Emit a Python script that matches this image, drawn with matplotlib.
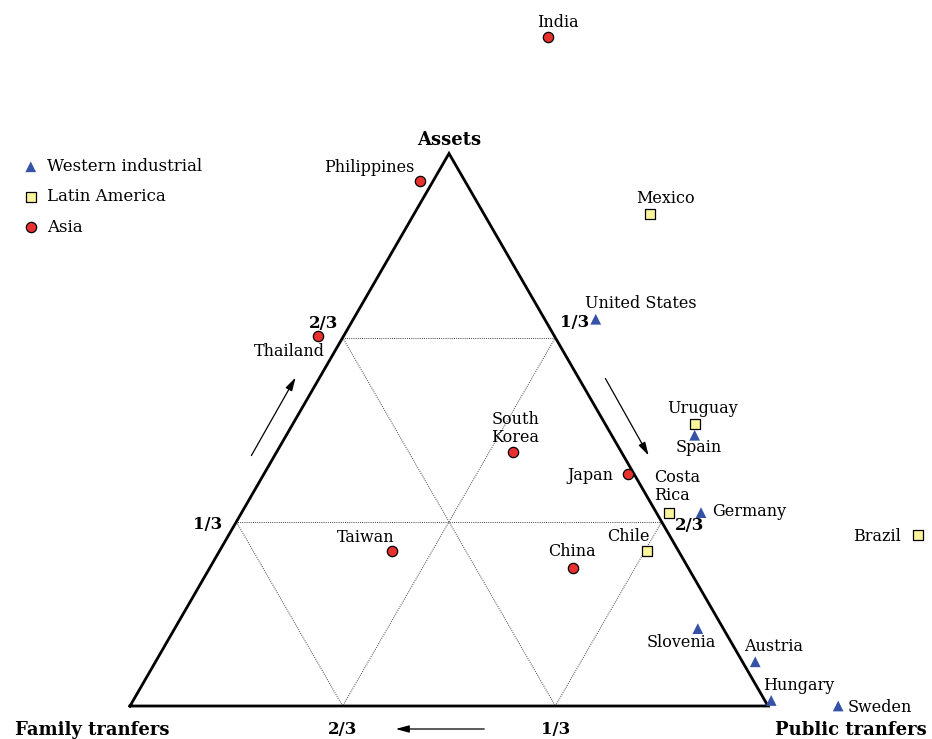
import matplotlib
matplotlib.use("Agg")
import matplotlib.pyplot as plt
import numpy as np

# shares of old-age consumption: family transfers, public transfers, assets
countries = ["India", "Philippines", "Thailand", "Mexico", "United States",
             "Uruguay", "Spain", "South\nKorea", "Japan", "Costa\nRica",
             "Germany", "Brazil", "Chile", "China", "Taiwan", "Slovenia",
             "Austria", "Hungary", "Sweden"]
region = ["Asia", "Asia", "Asia", "Latin America", "Western industrial",
          "Latin America", "Western industrial", "Asia", "Asia", "Latin America",
          "Western industrial", "Latin America", "Latin America", "Asia", "Asia",
          "Western industrial", "Western industrial", "Western industrial",
          "Western industrial"]
family = [-0.26, 0.07, 0.37, -0.26, -0.08, -0.14, -0.13, 0.17, 0.01, -0.02,
          -0.07, -0.39, 0.05, 0.18, 0.45, 0.04, -0.02, -0.01, -0.11]
public = [0.05, -0.02, -0.04, 0.37, 0.38, 0.63, 0.64, 0.37, 0.57, 0.67,
          0.72, 1.08, 0.67, 0.57, 0.27, 0.82, 0.94, 1.00, 1.11]
assets = [1.21, 0.95, 0.67, 0.89, 0.70, 0.51, 0.49, 0.46, 0.42, 0.35,
          0.35, 0.31, 0.28, 0.25, 0.28, 0.14, 0.08, 0.01, 0.00]

# label placement: (dx, dy) in points, horizontal alignment
label_pos = {
    "India": (7, 11, "center"), "Philippines": (-4, 10, "right"),
    "Thailand": (5, -11, "right"), "Mexico": (11, 11, "center"),
    "United States": (-8, 11, "left"), "Uruguay": (6, 11, "center"),
    "Spain": (3, -9, "center"), "South\nKorea": (2, 17, "center"),
    "Japan": (-10, -1, "right"), "Costa\nRica": (-11, 19, "left"),
    "Germany": (8, 1, "left"), "Brazil": (-12, -1, "right"),
    "Chile": (-13, 11, "center"), "China": (-1, 12, "center"),
    "Taiwan": (-19, 10, "center"), "Slovenia": (-12, -10, "center"),
    "Austria": (13, 11, "center"), "Hungary": (20, 11, "center"),
    "Sweden": (7, -1, "left"),
}

styles = {
    "Western industrial": dict(marker="^", color="#3552a6", ec="none", s=60),
    "Latin America": dict(marker="s", color="#fdf59c", ec="black", s=42),
    "Asia": dict(marker="o", color="#e8302e", ec="black", s=55),
}

h = np.sqrt(3) / 2


def tern(f, p, a):
    p = np.asarray(p, float)
    a = np.asarray(a, float)
    return p + a / 2, a * h


plt.rcParams["font.family"] = ["DejaVu Serif"]

fig = plt.figure(figsize=(9.32, 7.39), dpi=100)
ax = fig.add_axes([0, 0, 1, 1])
ax.set_xlim(-130 / 638, 802 / 638)
ax.set_ylim(-33 / 638, 706 / 638)
ax.axis("off")

# outer triangle
tx, ty = tern([1, 0, 0, 1], [0, 1, 0, 0], [0, 0, 1, 0])
ax.plot(tx, ty, color="black", lw=2, solid_joinstyle="miter", zorder=3)

# grid lines at 1/3 and 2/3
for v in (1 / 3, 2 / 3):
    for a0, b0 in [((v, 0, 1 - v), (v, 1 - v, 0)),
                   ((0, v, 1 - v), (1 - v, v, 0)),
                   ((0, 1 - v, v), (1 - v, 0, v))]:
        gx, gy = tern([a0[0], b0[0]], [a0[1], b0[1]], [a0[2], b0[2]])
        ax.plot(gx, gy, color="#444444", lw=0.7, ls=(0, (1, 1.2)), zorder=1)

# tick labels
tk = dict(fontsize=12, fontweight="bold", zorder=4)
x, y = tern(1 / 3, 0, 2 / 3)
ax.annotate("2/3", (x, y), xytext=(-14, 10), textcoords="offset points",
            ha="center", va="center", **tk)
x, y = tern(2 / 3, 0, 1 / 3)
ax.annotate("1/3", (x, y), xytext=(-21, -2), textcoords="offset points",
            ha="center", va="center", **tk)
x, y = tern(0, 1 / 3, 2 / 3)
ax.annotate("1/3", (x, y), xytext=(14, 11), textcoords="offset points",
            ha="center", va="center", **tk)
x, y = tern(0, 2 / 3, 1 / 3)
ax.annotate("2/3", (x, y), xytext=(20, -3), textcoords="offset points",
            ha="center", va="center", **tk)
for fv, pv in [(2 / 3, 1 / 3), (1 / 3, 2 / 3)]:
    x, y = tern(fv, pv, 0)
    ax.annotate(["1/3", "2/3"][fv > 0.5], (x, y), xytext=(0, -17),
                textcoords="offset points", ha="center", va="center", **tk)

# corner labels
cl = dict(fontsize=13, fontweight="bold")
x, y = tern(0, 0, 1)
ax.annotate("Assets", (x, y), xytext=(0, 10), textcoords="offset points",
            ha="center", va="center", **cl)
x, y = tern(1, 0, 0)
ax.annotate("Family tranfers", (x, y), xytext=(-27, -17),
            textcoords="offset points", ha="center", va="center", **cl)
x, y = tern(0, 1, 0)
ax.annotate("Public tranfers", (x, y), xytext=(60, -17),
            textcoords="offset points", ha="center", va="center", **cl)

# direction arrows
arr = dict(arrowstyle="-|>,head_length=0.8,head_width=0.22", color="black", lw=0.9)
ax.annotate("", xy=((297 - 130) / 638, (706 - 375) / 638),
            xytext=((250 - 130) / 638, (706 - 458) / 638), arrowprops=arr)
ax.annotate("", xy=((650 - 130) / 638, (706 - 458) / 638),
            xytext=((604 - 130) / 638, (706 - 376) / 638), arrowprops=arr)
ax.annotate("", xy=((393 - 130) / 638, (706 - 729) / 638),
            xytext=((487 - 130) / 638, (706 - 729) / 638), arrowprops=arr)

# points
px, py = tern(family, public, assets)
for reg, st in styles.items():
    idx = [i for i, r in enumerate(region) if r == reg]
    ax.scatter(px[idx], py[idx], marker=st["marker"], s=st["s"], c=st["color"],
               edgecolors=st["ec"], linewidths=0.9, zorder=5, label=reg,
               clip_on=False)

for i, name in enumerate(countries):
    dx, dy, ha = label_pos[name]
    ax.annotate(name, (px[i], py[i]), xytext=(dx, dy), textcoords="offset points",
                ha=ha, va="center", fontsize=11.5, linespacing=1.1, zorder=6)

ax.legend(loc="upper left", bbox_to_anchor=(0.016, 0.795), frameon=False,
          fontsize=12, handletextpad=0.45, labelspacing=0.8, borderaxespad=0,
          handlelength=1.1)

fig.savefig("out.png", dpi=100)
